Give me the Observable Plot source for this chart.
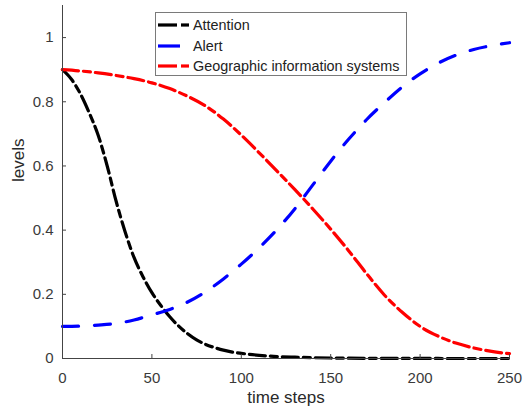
<!DOCTYPE html>
<html><head><meta charset="utf-8">
<script src="https://cdn.jsdelivr.net/npm/d3@7"></script>
<script src="https://cdn.jsdelivr.net/npm/@observablehq/plot@0.6"></script>
<style>
body{margin:0;background:#fff;font-family:"Liberation Sans",Arial,sans-serif;}
#wrap{position:relative;width:523px;height:416px;}
#legend{position:absolute;left:155px;top:12px;width:252px;height:64px;box-sizing:border-box;border:1px solid #7a7a7a;background:#fff;}
.item{position:absolute;left:0;height:18px;width:250px;}
.item svg{position:absolute;left:0;top:0;}
.item span{position:absolute;left:37px;top:0;font-size:14.4px;line-height:18px;color:#222;white-space:nowrap;}
</style></head><body><div id="wrap"></div>
<script>
const seriesNames = ["Attention", "Alert", "Geographic information systems"];
const seriesColors = ["#000000", "#0000ff", "#ff0000"];
const xTicks = [0, 50, 100, 150, 200, 250];
const yTicks = [0, 0.2, 0.4, 0.6, 0.8, 1];

const attentionTime = [0,5,10,15,20,25,30,35,40,45,50,55,60,65,70,75,80,85,90,95,100,110,120,130,140,150,160,170,180,190,200,210,220,230,240,250];
const attentionVals = [0.900,0.870,0.825,0.765,0.695,0.600,0.490,0.395,0.315,0.255,0.205,0.165,0.130,0.101,0.077,0.058,0.044,0.034,0.026,0.020,0.016,0.010,0.006,0.004,0.0025,0.0015,0.001,0.0006,0.0004,0.0003,0.0002,0.0001,0,0,0,0];

const tenTime = [0,10,20,30,40,50,60,70,80,90,100,110,120,130,140,150,160,170,180,190,200,210,220,230,240,250];
const alertVals = [0.100,0.101,0.104,0.109,0.120,0.136,0.153,0.176,0.208,0.248,0.294,0.345,0.402,0.467,0.541,0.615,0.683,0.744,0.797,0.846,0.887,0.920,0.945,0.963,0.975,0.984];
const gisVals = [0.900,0.896,0.890,0.882,0.872,0.859,0.841,0.817,0.787,0.746,0.696,0.641,0.584,0.526,0.466,0.403,0.336,0.265,0.198,0.144,0.100,0.070,0.048,0.033,0.022,0.015];

const attRows = attentionTime.map((t, i) => ({t, v: attentionVals[i]}));
const alertRows = tenTime.map((t, i) => ({t, v: alertVals[i]}));
const gisRows = tenTime.map((t, i) => ({t, v: gisVals[i]}));

const dashDot = "16,5,7,5";
const dashed = "16,16";

const chart = Plot.plot({
  width: 523, height: 416,
  marginLeft: 62, marginRight: 14, marginTop: 5, marginBottom: 58,
  style: {fontFamily: "'Liberation Sans', Arial, sans-serif", fontSize: "15px", color: "#333", background: "#fff"},
  x: {domain: [0, 250]},
  y: {domain: [0, 1.1]},
  marks: [
    Plot.line(attRows, {x: "t", y: "v", stroke: seriesColors[0], strokeWidth: 3.2, strokeDasharray: dashDot, curve: "monotone-x"}),
    Plot.line(alertRows, {x: "t", y: "v", stroke: seriesColors[1], strokeWidth: 3.2, strokeDasharray: dashed, curve: "monotone-x"}),
    Plot.line(gisRows, {x: "t", y: "v", stroke: seriesColors[2], strokeWidth: 3.2, strokeDasharray: dashDot, curve: "monotone-x"}),
    Plot.ruleX([0], {stroke: "#444"}),
    Plot.ruleY([0], {stroke: "#444"}),
    Plot.axisX({ticks: xTicks, tickSize: -4, tickPadding: 17.5, tickFormat: d => String(d), label: null, stroke: "#444", fill: "#3a3a3a", fontSize: 15}),
    Plot.axisY({ticks: yTicks, tickSize: -4, tickPadding: 13, tickFormat: d => String(d), label: null, stroke: "#444", fill: "#3a3a3a", fontSize: 15}),
    Plot.text(["time steps"], {text: d => d, frameAnchor: "bottom", dy: 44, fontSize: 17, fill: "#2a2a2a"}),
    Plot.text(["levels"], {text: d => d, frameAnchor: "left", dx: -44, rotate: -90, fontSize: 17, fill: "#2a2a2a"})
  ]
});
const wrap = document.getElementById("wrap");
wrap.appendChild(chart);

const legend = document.createElement("div");
legend.id = "legend";
const rowsTop = [3, 24, 44];
const samples = [
  [[2, 21], [25, 33]],
  [[2, 24]],
  [[2, 21], [25, 33]]
];
seriesNames.forEach((name, i) => {
  const item = document.createElement("div");
  item.className = "item";
  item.style.top = rowsTop[i] + "px";
  const segs = samples[i].map(([a, b]) => `<line x1="${a}" x2="${b}" y1="9" y2="9" stroke="${seriesColors[i]}" stroke-width="3.2"/>`).join("");
  item.innerHTML = `<svg width="36" height="18">${segs}</svg><span>${name}</span>`;
  legend.appendChild(item);
});
wrap.appendChild(legend);
</script>
</body></html>
